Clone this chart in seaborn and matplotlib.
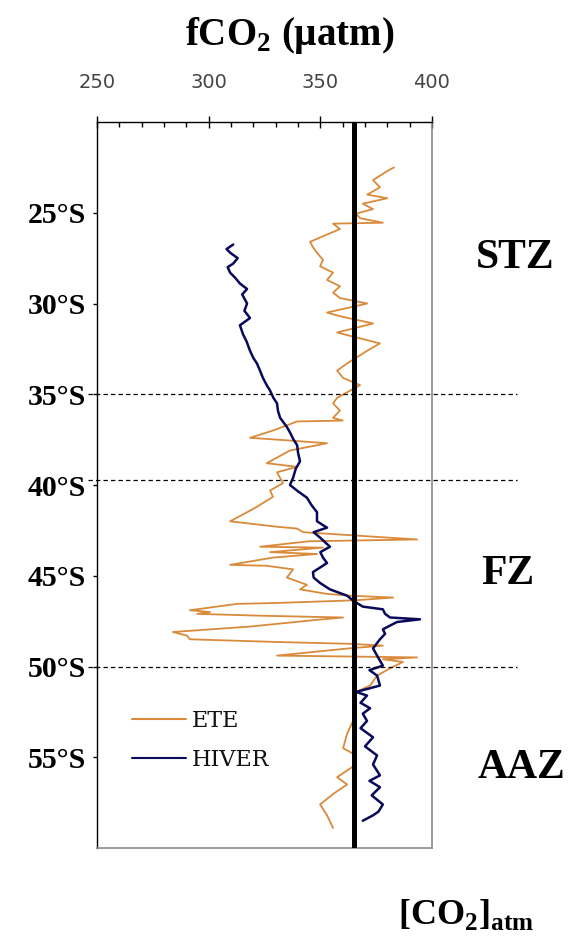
import numpy as np
import pandas as pd
import matplotlib
matplotlib.use("Agg")
import matplotlib.pyplot as plt
import seaborn as sns

# Summer (ETE) fCO2 transect: latitude (°S) and fCO2 (µatm)
ete_lat = [22.5, 22.7, 23.2, 23.6, 24.0, 24.2, 24.5, 24.8, 25.05, 25.3, 25.55, 25.6, 25.9,
           26.2, 26.6, 26.9, 27.2, 27.6, 27.95, 28.3, 28.7, 29.05, 29.4, 29.7, 30.0, 30.5,
           30.7, 31.1, 31.6, 32.2, 32.6, 33.3, 33.7, 34.1, 34.5, 34.8, 35.2, 35.5, 35.9,
           36.3, 36.45, 36.5, 37.0, 37.4, 37.5, 37.7, 38.1, 38.8, 39.0, 39.3, 39.9, 40.3,
           40.65, 41.2, 41.5, 42.0, 42.3, 42.4, 42.6, 43.0, 43.1, 43.4, 43.45, 43.7, 43.8,
           44.0, 44.4, 44.45, 44.65, 45.1, 45.5, 45.75, 46.0, 46.1, 46.2, 46.35, 46.5,
           46.55, 46.9, 47.0, 47.1, 47.2, 47.3, 47.45, 47.8, 48.1, 48.3, 48.5, 48.65,
           48.75, 48.85, 49.0, 49.4, 49.45, 49.5, 49.6, 49.75, 50.1, 50.5, 51.05, 51.4,
           52.3, 53.0, 53.7, 54.5, 54.8, 55.4, 56.1, 56.5, 57.0, 57.6, 58.2, 58.9]
ete_fco2 = [383, 380, 373.6, 376.7, 371, 380, 369, 373.6, 366, 367.8, 378, 355.7, 358.8,
            353, 345.4, 346.7, 348.5, 351.2, 349.9, 355.7, 353, 358.8, 355.7, 358.8, 371, 353,
            358.8, 373.6, 357.5, 376.7, 371, 362, 357.5, 360.2, 367.8, 363.3, 357.5, 355.7, 358.8,
            355.7, 360, 339.6, 328.8, 318.5, 330.6, 353, 336.4, 326, 339.6, 330.6, 333.3, 327.5,
            328.8, 321.6, 317.2, 309.6, 330.6, 339.6, 342.3, 393.3, 345, 323, 351.2, 327.5, 348.5,
            328.8, 309.6, 326, 337.8, 335, 344, 340.9, 353, 363.3, 382.6, 366, 330.6,
            312.7, 291.6, 300.6, 294.8, 323, 360.2, 346.7, 318.5, 284, 290.3, 291.6, 330.6,
            363.3, 378, 363, 330.6, 363.3, 393.3, 378, 387, 381.2, 375.4, 372.3, 366,
            366, 364.6, 362, 360.2, 364.6, 366, 357.5, 362, 356, 349.9, 353, 355.7]

# Winter (HIVER) fCO2 transect
hiver_lat = [26.75, 27.0, 27.2, 27.5, 27.8, 28.0, 28.3, 28.6, 28.9, 29.2, 29.5, 30.0, 30.4,
             30.8, 31.2, 31.7, 32.1, 32.6, 33.0, 33.3, 33.7, 34.1, 34.5, 34.8, 35.2, 35.5,
             35.9, 36.3, 36.8, 37.1, 37.5, 37.8, 38.2, 38.7, 39.1, 39.6, 40.0, 40.35, 40.7,
             41.1, 41.5, 42.0, 42.35, 42.6, 42.9, 43.4, 43.7, 44.0, 44.3, 44.8, 45.1, 45.4,
             45.75, 46.1, 46.4, 46.7, 46.85, 47.1, 47.3, 47.4, 47.55, 47.95, 48.2, 48.5,
             49.0, 49.4, 49.95, 50.2, 50.5, 51.05, 51.4, 51.6, 52.0, 52.3, 52.6, 53.0, 53.4,
             53.9, 54.4, 54.9, 55.4, 56.0, 56.3, 56.65, 57.1, 57.6, 58.0, 58.2, 58.5]
hiver_fco2 = [311, 308, 309.6, 313, 311, 308.5, 309.6, 312, 314, 317.2, 315, 317.2, 316,
              318.5, 314, 315.4, 317, 318.5, 320, 321.6, 323, 324.3, 326, 327.5, 329, 330.6,
              331, 332, 335, 336.4, 338, 339.6, 340, 340.9, 339, 337.8, 336.4, 340, 344,
              346, 348.5, 348.5, 353, 347, 349.9, 354.3, 350, 351.2, 353, 346.7, 347, 349.9,
              354.3, 362, 365, 369, 378, 379, 381.2, 394.6, 384.3, 378, 379, 376.7,
              373.6, 375.4, 378, 372, 375.4, 376.7, 366, 370.9, 368, 372.3, 369, 370.9, 368,
              373.6, 370, 375.4, 373.6, 376.7, 372, 376.7, 373, 378, 376, 373.6, 369]

co2_atm = 365
lat_ticks = [25, 30, 35, 40, 45, 50, 55]
lat_labels = ["25°S", "30°S", "35°S", "40°S", "45°S", "50°S", "55°S"]
front_lats = [35, 39.7, 50]
zones = ["STZ", "FZ", "AAZ"]
zone_lats = [27.5, 44.9, 55.6]
series_names = ["ETE", "HIVER"]
series_colors = ["#D98A3A", "#0A0A5C"]

df = pd.concat([
    pd.DataFrame({"lat": ete_lat, "fco2": ete_fco2, "saison": "ETE"}),
    pd.DataFrame({"lat": hiver_lat, "fco2": hiver_fco2, "saison": "HIVER"}),
], ignore_index=True)

sns.set_theme(style="white")
plt.rcParams["font.family"] = ["DejaVu Sans"]
plt.rcParams["text.color"] = "black"
plt.rcParams["mathtext.fontset"] = "custom"
plt.rcParams["mathtext.rm"] = "Liberation Serif"
plt.rcParams["mathtext.bf"] = "Liberation Serif:bold"

fig = plt.figure(figsize=(5.73, 9.49), dpi=100)
ax = fig.add_axes([97 / 573, 1 - 848 / 949, 335 / 573, 726 / 949])

sns.lineplot(data=df, x="fco2", y="lat", hue="saison", hue_order=series_names,
             palette=dict(zip(series_names, series_colors)), sort=False,
             estimator=None, orient="y", linewidth=1.3, ax=ax)
for line, lw in zip(ax.get_lines()[:2], [1.3, 1.8]):
    line.set_linewidth(lw)

# atmospheric CO2 reference
ax.axvline(co2_atm, color="black", lw=3.6, zorder=5)

ax.set_xlim(250, 400)
ax.set_ylim(60, 20)
ax.set_xlabel("")
ax.set_ylabel("")

# top axis with ticks every 10 µatm
ax.xaxis.tick_top()
ax.set_xticks([250, 300, 350, 400])
ax.set_xticks(np.arange(250, 401, 10), minor=True)
ax.tick_params(axis="x", which="major", direction="inout", length=9, width=1,
               color="black", pad=17, labelsize=14, labelcolor="#444444")
ax.tick_params(axis="x", which="minor", direction="in", length=3.5, width=1,
               color="black", top=True, bottom=False)

ax.set_yticks(lat_ticks)
ax.set_yticklabels(lat_labels, fontfamily="Liberation Serif", fontweight="bold",
                   fontsize=21.5, color="black")
ax.tick_params(axis="y", which="major", direction="out", length=3, width=1,
               color="black", pad=5, left=True)

for side in ["left", "top"]:
    ax.spines[side].set_color("black")
    ax.spines[side].set_linewidth(1.0)
for side in ["right", "bottom"]:
    ax.spines[side].set_color("#8a8a8a")
    ax.spines[side].set_linewidth(1.2)

# frontal boundaries
tr = ax.get_yaxis_transform()
for fl in front_lats:
    ax.plot([-0.027, 1.254], [fl, fl], transform=tr, color="black", lw=0.9,
            ls=(0, (3.5, 2.5)), clip_on=False, zorder=6)

# zone names
for name, zl, xf in zip(zones, zone_lats, [1.248, 1.227, 1.266]):
    ax.text(xf, zl, name, transform=tr, ha="center", va="center",
            fontfamily="Liberation Serif", fontweight="bold", fontsize=30, color="black")

leg = ax.legend(loc="upper left", bbox_to_anchor=(0.105, 0.19), frameon=False,
                handlelength=2.4, handletextpad=0.3, labelspacing=0.75,
                borderpad=0, borderaxespad=0,
                prop={"family": "DejaVu Serif", "size": 16})
for h in leg.get_lines():
    h.set_linewidth(1.5)
for t in leg.get_texts():
    t.set_color("#111111")

fig.text(0.506, 0.963, r"fCO$_\mathbf{2}$ (µatm)", ha="center", va="center",
         fontfamily="Liberation Serif", fontweight="bold", fontsize=28, color="black")
fig.text(0.813, 0.036, r"[CO$_\mathbf{2}$]$_\mathbf{atm}$", ha="center", va="center",
         fontfamily="Liberation Serif", fontweight="bold", fontsize=26, color="black")

fig.savefig("out.png", dpi=100)
